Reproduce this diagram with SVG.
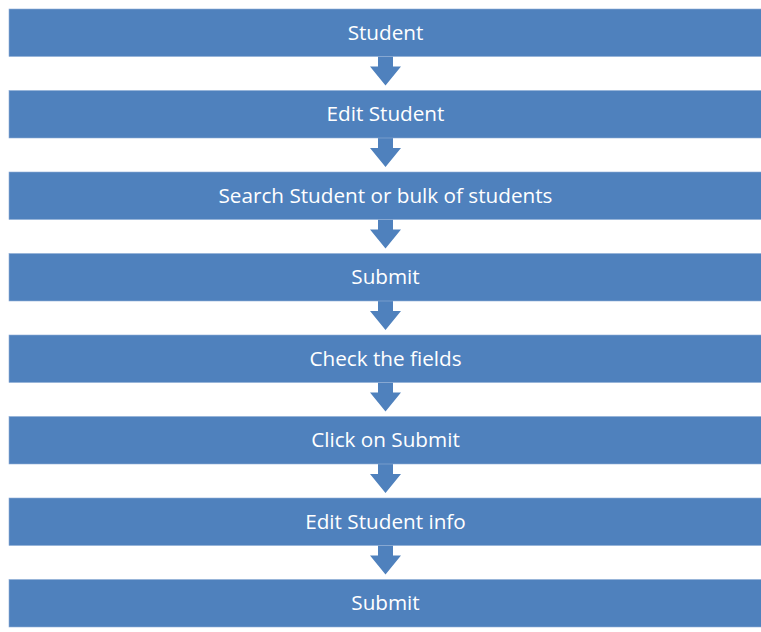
<svg xmlns="http://www.w3.org/2000/svg" width="761" height="632" viewBox="0 0 761 632">
<style>
.box{fill:#4F81BD;stroke:#8FADD6;stroke-width:0.6}
.lbl{fill:#FFFFFF;font-family:"Open Sans","Liberation Sans",sans-serif;font-size:20.7px;text-anchor:middle}
.arr{fill:#4F81BD}
</style>
<rect width="761" height="632" fill="#FFFFFF"/>
<g id="connectors">
<path class="arr" d="M378,56.5 H393 V66.5 H401 L385.5,85.5 L370,66.5 H378 Z"/>
<path class="arr" d="M378,138 H393 V148 H401 L385.5,167 L370,148 H378 Z"/>
<path class="arr" d="M378,219.5 H393 V229.5 H401 L385.5,248.5 L370,229.5 H378 Z"/>
<path class="arr" d="M378,301 H393 V311 H401 L385.5,330 L370,311 H378 Z"/>
<path class="arr" d="M378,382.5 H393 V392.5 H401 L385.5,411.5 L370,392.5 H378 Z"/>
<path class="arr" d="M378,464 H393 V474 H401 L385.5,493 L370,474 H378 Z"/>
<path class="arr" d="M378,545.5 H393 V555.5 H401 L385.5,574.5 L370,555.5 H378 Z"/>
</g>
<g id="n1"><rect class="box" x="9" y="9" width="753" height="47.5"/><text class="lbl" x="385.5" y="39.5">Student</text></g>
<g id="n2"><rect class="box" x="9" y="90.5" width="753" height="47.5"/><text class="lbl" x="385.5" y="120.5">Edit Student</text></g>
<g id="n3"><rect class="box" x="9" y="172" width="753" height="47.5"/><text class="lbl" x="385.5" y="202.5">Search Student or bulk of students</text></g>
<g id="n4"><rect class="box" x="9" y="253.5" width="753" height="47.5"/><text class="lbl" x="385.5" y="283.5">Submit</text></g>
<g id="n5"><rect class="box" x="9" y="335" width="753" height="47.5"/><text class="lbl" x="385.5" y="365.5">Check the fields</text></g>
<g id="n6"><rect class="box" x="9" y="416.5" width="753" height="47.5"/><text class="lbl" x="385.5" y="446.5">Click on Submit</text></g>
<g id="n7"><rect class="box" x="9" y="498" width="753" height="47.5"/><text class="lbl" x="385.5" y="528.5">Edit Student info</text></g>
<g id="n8"><rect class="box" x="9" y="579.5" width="753" height="47.5"/><text class="lbl" x="385.5" y="609.5">Submit</text></g>
</svg>
